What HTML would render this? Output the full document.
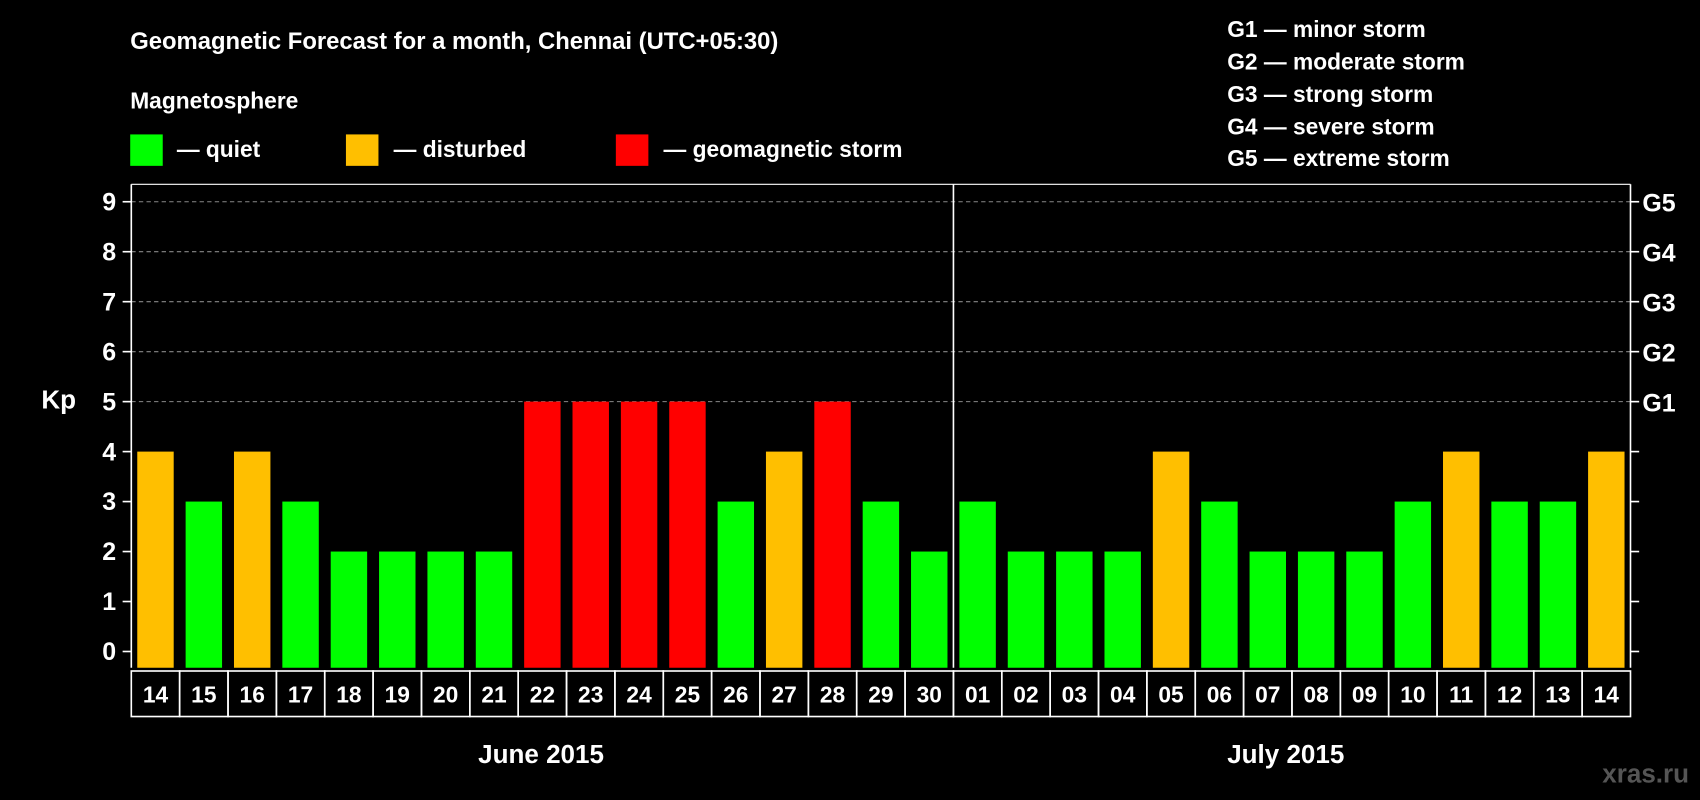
<!DOCTYPE html>
<html><head><meta charset="utf-8"><style>
html,body{margin:0;padding:0;background:#000;}
svg{display:block;font-family:"Liberation Sans",Arial,sans-serif;font-weight:bold;}
</style></head><body>
<svg width="1700" height="800" viewBox="0 0 1568 738">
<rect x="0" y="0" width="1568" height="738" fill="#000"/>
<text x="120" y="45" fill="#fff" font-size="22">Geomagnetic Forecast for a month, Chennai (UTC+05:30)</text>
<text x="120" y="100" fill="#fff" font-size="21">Magnetosphere</text>
<g><rect x="120" y="124" width="30" height="29" fill="#00ff00"/><text x="163" y="145" fill="#fff" font-size="21">— quiet</text></g>
<g><rect x="319" y="124" width="30" height="29" fill="#ffbf00"/><text x="363" y="145" fill="#fff" font-size="21">— disturbed</text></g>
<g><rect x="568" y="124" width="30" height="29" fill="#ff0000"/><text x="612" y="145" fill="#fff" font-size="21">— geomagnetic storm</text></g>
<g fill="#fff" font-size="21">
<text x="1132" y="34">G1 — minor storm</text>
<text x="1132" y="64">G2 — moderate storm</text>
<text x="1132" y="94">G3 — strong storm</text>
<text x="1132" y="124">G4 — severe storm</text>
<text x="1132" y="153">G5 — extreme storm</text>
</g>
<text x="38" y="377" fill="#fff" font-size="24">Kp</text>
<text x="1478" y="722" fill="#555" font-size="24">xras.ru</text>
<text x="499" y="704" fill="#fff" font-size="24" text-anchor="middle">June 2015</text>
<text x="1186" y="704" fill="#fff" font-size="24" text-anchor="middle">July 2015</text>
<g id="grid"></g>
<g id="bars"></g>
<g id="axes"></g>
</svg>
<script>
const days=["14","15","16","17","18","19","20","21","22","23","24","25","26","27","28","29","30","01","02","03","04","05","06","07","08","09","10","11","12","13","14"];
const kp=[4,3,4,3,2,2,2,2,5,5,5,5,3,4,5,3,2,3,2,2,2,4,3,2,2,2,3,4,3,3,4];
const yTicks=[0,1,2,3,4,5,6,7,8,9];
const gLabels=["","","","","","G1","G2","G3","G4","G5"];
const NS="http://www.w3.org/2000/svg";
const L=121,R=1504,T=170,B=616;
const y0=601,unit=46.1;
const yS=v=>y0-v*unit;
const cw=(R-L)/days.length;
const xS=i=>L+i*cw;
function mk(t,a,p){const e=document.createElementNS(NS,t);for(const k in a)e.setAttribute(k,a[k]);p.appendChild(e);return e;}
const grid=document.getElementById('grid'),bars=document.getElementById('bars'),axes=document.getElementById('axes');
yTicks.forEach((v,i)=>{
 if(v>=5){const g=mk('line',{x1:L,x2:R,y1:yS(v),y2:yS(v),stroke:'#888','stroke-dasharray':'4,3','stroke-width':1},grid);
 
 }
 mk('line',{x1:L-8,x2:L,y1:yS(v),y2:yS(v),stroke:'#fff','stroke-width':1.5},axes);
 mk('line',{x1:R,x2:R+8,y1:yS(v),y2:yS(v),stroke:'#fff','stroke-width':1.5},axes);
 const t=mk('text',{x:L-14,y:yS(v)+8,fill:'#fff','font-size':23,'text-anchor':'end'},axes);t.textContent=v;
 
 
 if(gLabels[i]){const g=mk('text',{x:R+11,y:yS(v)+9,fill:'#fff','font-size':23},axes);g.textContent=gLabels[i];
 
 }
});
kp.forEach((v,i)=>{
 const c=v>=5?'#ff0000':(v==4?'#ffbf00':'#00ff00');
 const r=mk('rect',{x:xS(i)+5.5,y:yS(v),width:cw-11,height:B-yS(v),fill:c},bars);
 
 
 const b=mk('rect',{x:xS(i),y:B+3,width:cw,height:42,fill:'none',stroke:'#fff','stroke-width':1.5},axes);
 
 
 const t=mk('text',{x:xS(i)+cw/2,y:B+32,fill:'#fff','font-size':21,'text-anchor':'middle'},axes);t.textContent=days[i];
 
 
});
mk('line',{x1:L,x2:L,y1:T,y2:B,stroke:'#fff','stroke-width':1.5},axes);
mk('line',{x1:R,x2:R,y1:T,y2:B,stroke:'#fff','stroke-width':1.5},axes);
mk('line',{x1:L,x2:R,y1:T,y2:T,stroke:'#fff','stroke-width':1},axes);
const d=mk('line',{x1:xS(17),x2:xS(17),y1:T,y2:B,stroke:'#fff','stroke-width':1.5},axes);


</script>
</body></html>
